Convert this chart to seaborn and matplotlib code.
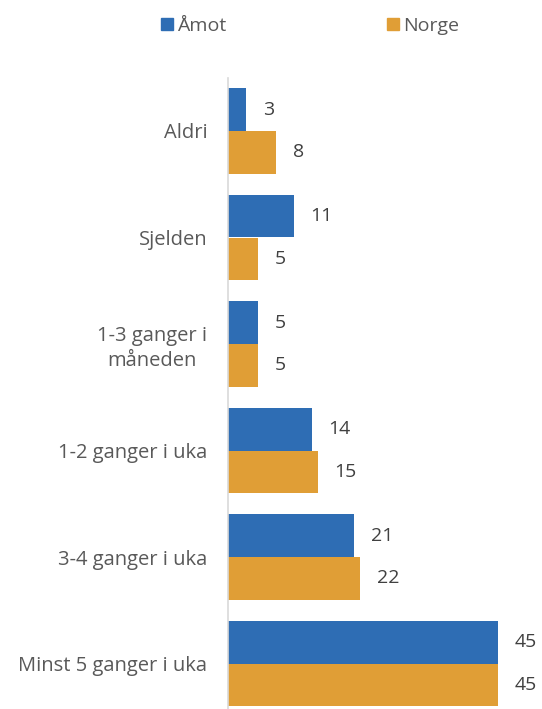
import pandas as pd
import matplotlib.pyplot as plt
import seaborn as sns

kategorier = ['Aldri', 'Sjelden', '1-3 ganger i\nmåneden', '1-2 ganger i uka',
              '3-4 ganger i uka', 'Minst 5 ganger i uka']
amot = [3, 11, 5, 14, 21, 45]
norge = [8, 5, 5, 15, 22, 45]
serier = ['Åmot', 'Norge']
farger = ['#2E6DB4', '#E09E36']

df = pd.DataFrame({
    'kategori': kategorier * 2,
    'andel': amot + norge,
    'serie': [serier[0]] * len(kategorier) + [serier[1]] * len(kategorier),
})

sns.set_style('white')
plt.rcParams['font.family'] = ['Open Sans', 'DejaVu Sans']
tekstfarge = '#595959'

fig = plt.figure(figsize=(5.42, 7.09), dpi=100)
ax = fig.add_axes([228 / 542, -7.75 / 709, 300 / 542, 639 / 709])

sns.barplot(data=df, y='kategori', x='andel', hue='serie', orient='h',
            palette=farger, saturation=1, width=0.8, linewidth=0,
            ax=ax, legend=False)

for cont in ax.containers:
    ax.bar_label(cont, padding=12, fontsize=14, color='#404040')

ax.set_xlim(0, 50)
ax.set_ylim(5.5, -0.5)
ax.set_xlabel('')
ax.set_ylabel('')
ax.set_xticks([])
ax.tick_params(axis='y', length=0, pad=15, labelsize=14.5, labelcolor=tekstfarge)
for lab in ax.get_yticklabels():
    lab.set_multialignment('center')
    lab.set_linespacing(1.3)
for side in ['top', 'right', 'bottom']:
    ax.spines[side].set_visible(False)
ax.spines['left'].set_color('#D9D9D9')
ax.spines['left'].set_linewidth(1.2)

handles = [plt.Rectangle((0, 0), 1, 1, color=c) for c in farger]
fig.legend(handles, serier, loc='center', bbox_to_anchor=(310 / 542, 1 - 26 / 709),
           ncol=2, frameon=False, fontsize=14, handlelength=0.6, handleheight=0.6,
           handletextpad=0.2, columnspacing=8.3, labelcolor=tekstfarge)

fig.savefig('out.png', dpi=100)
